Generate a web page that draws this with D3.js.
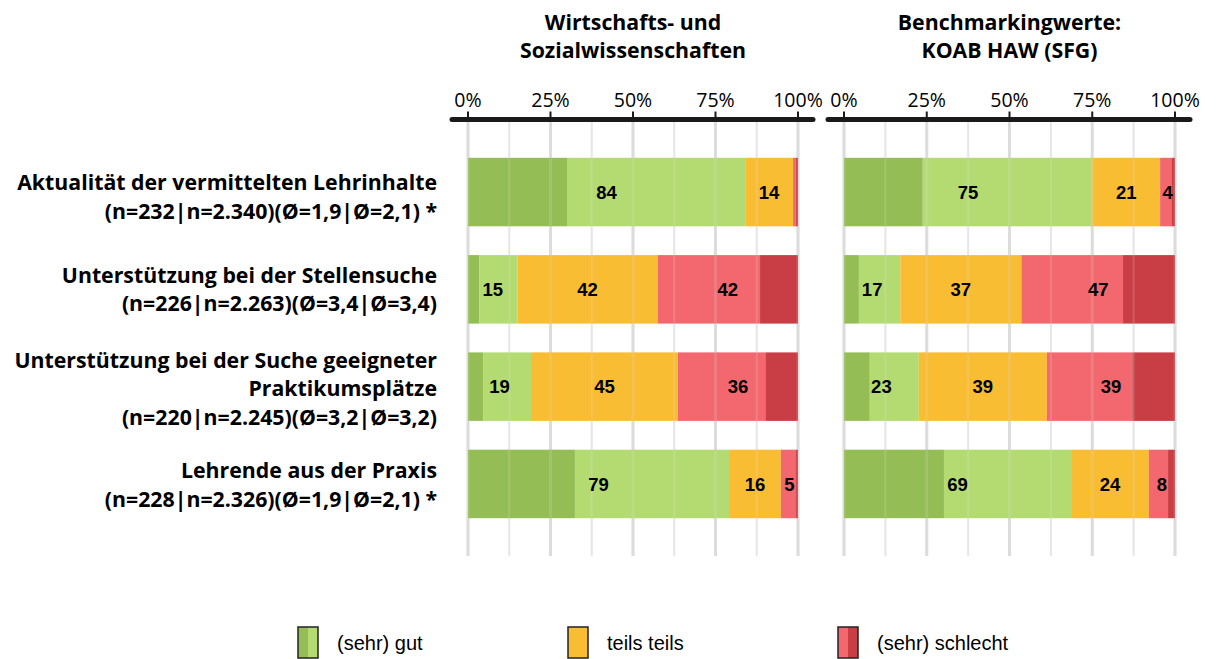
<!DOCTYPE html>
<html>
<head>
<meta charset="utf-8">
<script src="https://cdn.jsdelivr.net/npm/d3@7"></script>
<style>
  body { margin: 0; background: #fff; }
  svg { display: block; }
</style>
</head>
<body>
<div id="chart"></div>
<script>
// ---- data ----
const categories = [
  ["Aktualität der vermittelten Lehrinhalte", "(n=232|n=2.340)(Ø=1,9|Ø=2,1) *"],
  ["Unterstützung bei der Stellensuche", "(n=226|n=2.263)(Ø=3,4|Ø=3,4)"],
  ["Unterstützung bei der Suche geeigneter", "Praktikumsplätze", "(n=220|n=2.245)(Ø=3,2|Ø=3,2)"],
  ["Lehrende aus der Praxis", "(n=228|n=2.326)(Ø=1,9|Ø=2,1) *"]
];
const panelTitles = [["Wirtschafts- und", "Sozialwissenschaften"], ["Benchmarkingwerte:", "KOAB HAW (SFG)"]];
const tickValues = [0, 25, 50, 75, 100];
const minorTicks = [12.5, 37.5, 62.5, 87.5];

// Wirtschafts- und Sozialwissenschaften
const wsSehrGut      = [30, 3.4, 4.7, 32.4];
const wsGut          = [54, 11.6, 14.4, 46.7];
const wsTeils        = [14.5, 42.5, 44.5, 15.7];
const wsSchlecht     = [0.8, 31, 26.5, 4.4];
const wsSehrSchlecht = [0.7, 11.5, 9.9, 0.8];
const wsGoodLabels = [84, 15, 19, 79];
const wsMidLabels  = [14, 42, 45, 16];
const wsBadLabels  = [null, 42, 36, 5];

// Benchmark KOAB HAW (SFG)
const bmSehrGut      = [23.8, 4.5, 7.8, 30.2];
const bmGut          = [51.2, 12.5, 14.8, 38.4];
const bmTeils        = [20.5, 36.6, 38.7, 23.5];
const bmSchlecht     = [3.4, 30.7, 25.8, 5.8];
const bmSehrSchlecht = [1.1, 15.7, 12.9, 2.1];
const bmGoodLabels = [75, 17, 23, 69];
const bmMidLabels  = [21, 37, 39, 24];
const bmBadLabels  = [4, 47, 39, 8];

const legendItems = ["(sehr) gut", "teils teils", "(sehr) schlecht"];
const colors = ["#95bd55", "#b4db72", "#f9bd33", "#f2686e", "#c93e44"];

// ---- layout ----
const W = 1218, H = 659;
const svg = d3.select("#chart").append("svg").attr("width", W).attr("height", H);

const y = d3.scaleBand()
  .domain(d3.range(categories.length))
  .range([129, 547])
  .padding(0.296);

const panels = [
  { x: d3.scaleLinear().domain([0, 100]).range([468, 798]),
    series: [wsSehrGut, wsGut, wsTeils, wsSchlecht, wsSehrSchlecht],
    labels: [wsGoodLabels, wsMidLabels, wsBadLabels], title: panelTitles[0] },
  { x: d3.scaleLinear().domain([0, 100]).range([844, 1175]),
    series: [bmSehrGut, bmGut, bmTeils, bmSchlecht, bmSehrSchlecht],
    labels: [bmGoodLabels, bmMidLabels, bmBadLabels], title: panelTitles[1] }
];

const axisY = 119.5, gridBottom = 556;
const labelFont = "'Open Sans', 'Noto Sans', sans-serif";

panels.forEach(function(p) {
  const g = svg.append("g");
  const x = p.x;

  // grid lines
  function grid(target, op) {
    target.selectAll(".major").data(tickValues).enter().append("line")
      .attr("x1", d => x(d)).attr("x2", d => x(d))
      .attr("y1", axisY).attr("y2", gridBottom)
      .attr("stroke", "#dcdcdc").attr("stroke-width", 3).attr("opacity", op);
    target.selectAll(".minor").data(minorTicks).enter().append("line")
      .attr("x1", d => x(d)).attr("x2", d => x(d))
      .attr("y1", axisY).attr("y2", gridBottom)
      .attr("stroke", "#e6e6e6").attr("stroke-width", 2).attr("opacity", op);
  }
  grid(g.append("g"), 1);

  // stacked segments
  const rows = categories.map(function(c, i) {
    let acc = 0;
    return p.series.map(function(s, k) {
      const seg = { row: i, k: k, x0: acc, x1: acc + s[i] };
      acc += s[i];
      return seg;
    });
  });
  const segs = rows.flat();
  g.selectAll(".seg").data(segs).enter().append("rect")
    .attr("x", d => x(d.x0))
    .attr("y", d => y(d.row))
    .attr("width", d => x(d.x1) - x(d.x0))
    .attr("height", y.bandwidth())
    .attr("fill", d => colors[d.k]);

  // faint grid on top (bars are slightly see-through in the original)
  grid(g.append("g"), 0.18);

  // group labels: good (0+1), middle (2), bad (3+4)
  const groups = [[0, 1], [2, 2], [3, 4]];
  categories.forEach(function(c, i) {
    groups.forEach(function(gr, j) {
      const val = p.labels[j][i];
      if (val == null) return;
      const a = rows[i][gr[0]].x0, b = rows[i][gr[1]].x1;
      g.append("text")
        .attr("x", x((a + b) / 2))
        .attr("y", y(i) + y.bandwidth() / 2)
        .attr("dy", "0.36em")
        .attr("text-anchor", "middle")
        .style("font-family", "'Liberation Sans', Arial, sans-serif")
        .style("font-weight", "bold")
        .style("font-size", "18.5px")
        .text(val);
    });
  });

  // top axis
  g.append("line")
    .attr("x1", x(0) - 16).attr("x2", x(100) + 15)
    .attr("y1", axisY).attr("y2", axisY)
    .attr("stroke", "#1a1a1a").attr("stroke-width", 5).attr("stroke-linecap", "round");
  g.selectAll(".tick").data(tickValues).enter().append("line")
    .attr("x1", d => x(d)).attr("x2", d => x(d))
    .attr("y1", axisY - 8).attr("y2", axisY)
    .attr("stroke", "#1a1a1a").attr("stroke-width", 2);
  g.selectAll(".ticklabel").data(tickValues).enter().append("text")
    .attr("x", d => x(d)).attr("y", 107)
    .attr("text-anchor", "middle")
    .style("font-family", labelFont).style("font-size", "19.5px")
    .text(d => d + "%");

  // panel title
  g.append("text")
    .attr("x", (x(0) + x(100)) / 2).attr("y", 30)
    .attr("text-anchor", "middle")
    .style("font-family", labelFont).style("font-weight", "bold").style("font-size", "21.3px")
    .selectAll("tspan").data(p.title).enter().append("tspan")
    .attr("x", (x(0) + x(100)) / 2)
    .attr("dy", (d, i) => i ? 28 : 0)
    .text(d => d);
});

// category labels (the original sets them slightly off the bar centre)
const lineH = 28.5;
const labelShift = [5, 0, 2, 1];
categories.forEach(function(lines, i) {
  const cy = y(i) + y.bandwidth() / 2 + labelShift[i];
  const top = cy - (lines.length - 1) * lineH / 2;
  svg.append("text")
    .attr("text-anchor", "end")
    .style("font-family", labelFont).style("font-weight", "bold").style("font-size", "21.3px")
    .selectAll("tspan").data(lines).enter().append("tspan")
    .attr("x", 437)
    .attr("y", (d, k) => top + k * lineH)
    .attr("dy", "0.35em")
    .text(d => d);
});

// legend
const legendX = [298, 568, 838];
const legendColors = [[colors[0], colors[1]], [colors[2], colors[2]], [colors[3], colors[4]]];
const lg = svg.append("g");
legendItems.forEach(function(name, i) {
  const gx = legendX[i];
  lg.append("rect").attr("x", gx).attr("y", 627).attr("width", 10).attr("height", 31)
    .attr("fill", legendColors[i][0]);
  lg.append("rect").attr("x", gx + 10).attr("y", 627).attr("width", 10).attr("height", 31)
    .attr("fill", legendColors[i][1]);
  lg.append("rect").attr("x", gx).attr("y", 627).attr("width", 20).attr("height", 31)
    .attr("fill", "none").attr("stroke", "#222").attr("stroke-width", 1.5);
  lg.append("text").attr("x", gx + 39).attr("y", 650)
    .style("font-family", "'Liberation Sans', Arial, sans-serif").style("font-size", "20px")
    .text(name);
});
</script>
</body>
</html>
